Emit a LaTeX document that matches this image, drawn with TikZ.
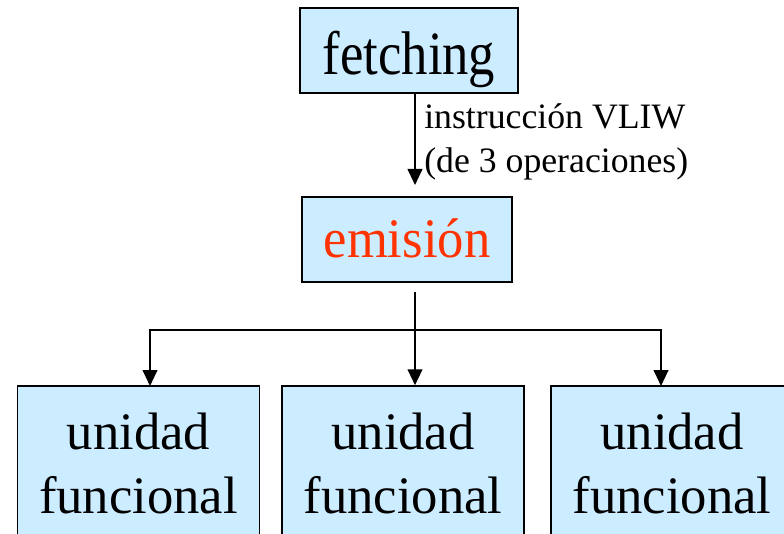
\documentclass[tikz,border=0pt]{standalone}
\usepackage{fontspec}
\setmainfont{Liberation Serif}
\usetikzlibrary{arrows.meta}
\definecolor{boxfill}{HTML}{CCECFF}
\definecolor{emired}{HTML}{FF3300}
\tikzset{
  box/.style={draw=black, fill=boxfill, line width=1.5pt, inner sep=0pt},
  unitbox/.style={draw=black, fill=boxfill, line width=1.1pt, inner sep=0pt,
    minimum width=242*0.75pt, minimum height=155*0.75pt, align=center,
    font=\fontsize{39.5}{48}\selectfont},
  bigtext/.style={font=\fontsize{39.5}{48}\selectfont},
  conn/.style={line width=1.5pt},
  arr/.style={line width=1.5pt, -{Triangle[width=11pt,length=12pt]}},
  lbl/.style={font=\fontsize{26.8}{33.3}\selectfont, align=left, inner sep=0pt}
}
\begin{document}
\begin{tikzpicture}[x=0.75pt,y=-0.75pt]
\useasboundingbox (0,0) rectangle (784,534);
\clip (0,0) rectangle (784,534);
\node[box, bigtext, minimum width=218*0.75pt, minimum height=85*0.75pt,
  text height=36.75pt, text depth=0pt] (fetch) at (409,50.5) {\scalebox{1}[1.17]{fetching}};
\node[box, bigtext, text=emired, minimum width=210*0.75pt, minimum height=85*0.75pt,
  text height=27.75pt, text depth=0pt] (emi) at (407,239.5) {\scalebox{1}[1.06]{emisión}};
\node[unitbox] (u1) at (138.5,463.5) {unidad\\funcional};
\node[unitbox] (u2) at (403,463.5) {unidad\\funcional};
\node[unitbox] (u3) at (672,463.5) {unidad\\funcional};
\node[lbl, anchor=north west] (lab) at (424,103) {instrucción VLIW\\(de 3 operaciones)};
\coordinate (t1) at (415,185);
\coordinate (e0) at (415,292);
\coordinate (bus) at (415,330);
\coordinate (a1) at (150,386);
\coordinate (a3) at (661,386);
\draw[arr] (fetch.south -| t1) -- (t1);
\draw[arr] (e0) -- (u2.north -| e0);
\draw[arr] (bus) -| (a1);
\draw[arr] (bus) -| (a3);
\end{tikzpicture}
\end{document}
